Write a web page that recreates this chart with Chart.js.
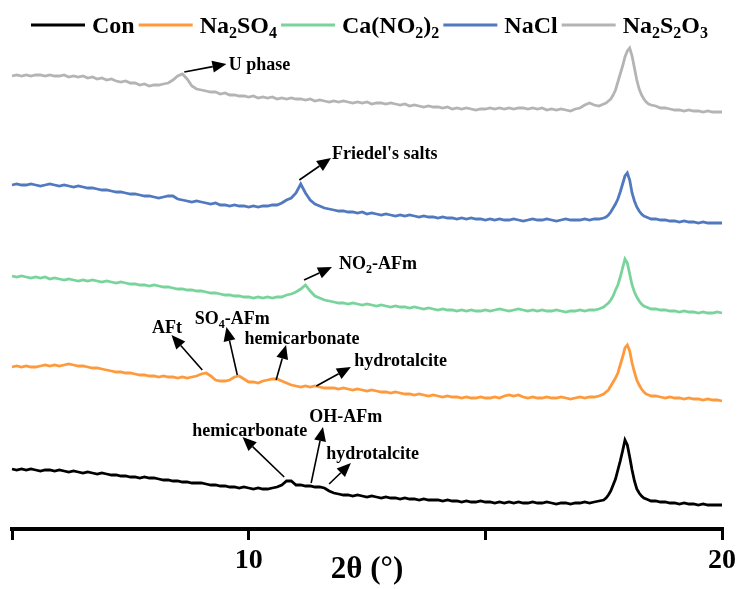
<!DOCTYPE html>
<html>
<head>
<meta charset="utf-8">
<script src="https://cdn.jsdelivr.net/npm/chart.js@4.4.1/dist/chart.umd.min.js"></script>
<style>
  html, body { margin: 0; padding: 0; background: #fff; }
  #wrap { width: 740px; height: 589px; }
</style>
</head>
<body>
<div id="wrap"><canvas id="xrd" width="740" height="589"></canvas></div>
<script>
// 2theta positions (deg), finer steps around the big peak near 18
const twoTheta = [
  5,5.1,5.2,5.3,5.4,5.5,5.6,5.7,5.8,5.9,
  6,6.1,6.2,6.3,6.4,6.5,6.6,6.7,6.8,6.9,
  7,7.1,7.2,7.3,7.4,7.5,7.6,7.7,7.8,7.9,
  8,8.1,8.2,8.3,8.4,8.5,8.6,8.7,8.8,8.9,
  9,9.1,9.2,9.3,9.4,9.5,9.6,9.7,9.8,9.9,
  10,10.1,10.2,10.3,10.4,10.5,10.6,10.7,10.8,10.9,
  11,11.1,11.2,11.3,11.4,11.5,11.6,11.7,11.8,11.9,
  12,12.1,12.2,12.3,12.4,12.5,12.6,12.7,12.8,12.9,
  13,13.1,13.2,13.3,13.4,13.5,13.6,13.7,13.8,13.9,
  14,14.1,14.2,14.3,14.4,14.5,14.6,14.7,14.8,14.9,
  15,15.1,15.2,15.3,15.4,15.5,15.6,15.7,15.8,15.9,
  16,16.1,16.2,16.3,16.4,16.5,16.6,16.7,16.8,16.9,
  17,17.1,17.2,17.3,17.4,17.5,
  17.55,17.6,17.65,17.7,17.75,17.8,17.85,17.9,17.95,18,18.05,18.1,18.15,18.2,18.25,18.3,18.35,18.4,18.45,
  18.5,18.6,18.7,18.8,18.9,19,19.1,19.2,19.3,19.4,19.5,19.6,19.7,19.8,19.9,20
];

// intensities (a.u., stacked offsets as in the figure)
const con = [
  60,59,60,59,60,59,58,59,59,58,
  59,58,57,58,57,56,57,56,55,56,
  55,54,54,53,53,52,52,51,52,51,
  51,50,49,49,48,48,47,47,46,46,
  46,45,44,44,43,43,42,42,41,42,
  41,40,41,40,40,41,42,44,48,48,
  44,44,43,43,42,42,41,38,36,35,
  34,34,33,34,33,32,33,32,31,32,
  31,31,30,31,30,30,29,30,29,29,
  29,28,29,28,28,27,28,27,27,28,
  27,27,26,27,26,27,26,27,26,26,
  27,26,26,27,26,25,26,26,25,26,
  26,27,26,27,28,29,
  31,34,38,44,50,59,68,78,89,84,72,59,48,40,36,33,31,30,29,
  28,28,27,27,26,26,25,26,25,25,24,25,24,24,24,24
];
const na2so4 = [
  162,163,162,163,162,162,163,164,163,164,
  163,164,165,164,163,163,162,161,161,160,
  159,158,157,157,156,156,155,154,154,153,
  153,152,153,152,152,151,152,151,152,153,
  155,156,153,149,148,148,149,152,153,150,
  147,147,146,148,149,150,150,148,146,144,
  143,142,143,142,143,142,141,141,141,140,
  141,140,139,140,139,138,139,138,137,137,
  136,137,136,135,135,134,135,134,133,134,
  133,132,133,132,132,131,132,131,131,132,
  131,131,132,131,133,134,133,134,132,131,
  132,131,131,132,131,131,132,131,130,131,
  132,131,132,132,133,135,
  137,139,143,147,151,156,164,172,181,184,178,166,157,149,144,140,137,135,134,
  133,133,132,131,132,131,131,130,131,130,130,129,130,129,129,128
];
const cano22 = [
  253,252,253,252,251,252,251,252,250,251,
  250,249,250,249,248,249,248,249,248,247,
  248,247,246,247,246,245,245,244,244,243,
  244,243,242,242,241,240,240,239,239,238,
  238,237,236,236,235,234,234,233,233,232,
  232,231,232,231,232,231,232,232,234,235,
  237,240,244,238,233,231,229,228,227,226,
  226,225,226,225,224,225,224,223,224,223,
  222,223,222,222,221,222,221,220,221,220,
  219,220,219,219,218,219,218,219,218,218,
  219,218,219,220,219,218,219,220,219,218,
  219,218,219,218,218,219,218,217,218,218,
  219,218,219,219,220,222,
  224,226,229,233,239,244,252,261,270,266,255,244,237,232,228,225,223,222,221,
  220,220,219,219,218,218,217,218,217,217,216,217,216,216,217,216
];
const nacl = [
  344,345,344,344,345,344,343,344,345,344,
  343,344,343,342,343,342,341,341,340,339,
  339,338,337,337,336,335,335,334,333,333,
  332,331,332,333,333,330,329,328,327,328,
  327,326,325,326,324,324,323,324,323,323,
  322,323,322,323,323,324,324,326,329,331,
  336,345,336,329,325,323,321,320,319,318,
  318,317,317,316,317,315,316,315,314,315,
  314,313,314,313,314,313,312,313,312,312,
  311,312,311,311,310,311,310,311,310,310,
  309,310,309,310,309,309,310,309,308,309,
  310,309,309,310,309,308,309,310,309,309,
  309,310,309,310,310,311,
  312,314,317,321,325,330,337,345,353,356,349,336,328,322,318,315,313,312,311,
  310,310,309,309,308,308,307,308,307,307,306,307,306,306,306,306
];
const na2s2o3 = [
  453,454,453,454,453,454,454,453,454,453,
  453,454,452,453,452,453,451,452,450,451,
  449,450,448,447,448,446,446,444,445,443,
  444,444,445,446,449,453,455,450,443,440,
  439,438,437,437,435,436,434,434,433,433,
  432,433,431,432,431,432,430,431,430,431,
  430,430,429,430,428,429,428,427,428,427,
  428,427,426,427,426,427,425,426,426,425,
  426,425,424,425,423,424,423,422,423,422,
  422,421,422,420,421,420,421,420,419,420,
  420,421,420,421,420,421,420,421,421,420,
  421,420,421,419,420,419,420,419,418,420,
  421,424,426,424,423,425,
  426,428,430,434,439,447,455,463,472,478,481,473,461,449,440,434,430,427,425,
  424,423,421,421,420,419,419,418,419,418,418,417,418,417,417,417
];

const seriesNames = ['Con', 'Na_2SO_4', 'Ca(NO_2)_2', 'NaCl', 'Na_2S_2O_3'];
const seriesColors = ['#000000', '#FF9A3C', '#79D49C', '#5079BF', '#B4B4B4'];
const seriesData = [con, na2so4, cano22, nacl, na2s2o3];

const tickValues = [5, 10, 15, 20];
const tickLabels = ['', '10', '', '20'];

// phase labels: arrow from the pattern (from) to tip, text placed at (at)
const annotations = [
  { text: 'U phase',         from: [8.64, 457], tip: [9.53, 465], at: [9.58, 465] },
  { text: "Friedel's salts", from: [11.07, 349], tip: [11.74, 371], at: [11.76, 376] },
  { text: 'NO_2-AFm',        from: [11.17, 249], tip: [11.76, 262], at: [11.91, 266] },
  { text: 'AFt',             from: [9.02, 159], tip: [8.37, 194], at: [7.96, 202] },
  { text: 'SO_4-AFm',        from: [9.76, 154], tip: [9.53, 202], at: [8.86, 211] },
  { text: 'hemicarbonate',   from: [10.58, 149], tip: [10.79, 184], at: [9.91, 191] },
  { text: 'hydrotalcite',    from: [11.43, 143], tip: [12.16, 162], at: [12.23, 169] },
  { text: 'hemicarbonate',   from: [10.75, 52], tip: [9.87, 92], at: [8.81, 99] },
  { text: 'OH-AFm',          from: [11.32, 46], tip: [11.57, 102], at: [11.28, 113] },
  { text: 'hydrotalcite',    from: [11.70, 45], tip: [12.16, 66], at: [11.64, 76] }
];

const SERIF = '"Liberation Serif", "Times New Roman", serif';

// split "Na_2SO_4" into normal / subscript pieces
function parseSubs(str) {
  const parts = [];
  for (let i = 0; i < str.length; i++) {
    if (str[i] === '_' && i + 1 < str.length) {
      parts.push({ t: str[i + 1], sub: true });
      i++;
    } else {
      const last = parts[parts.length - 1];
      if (last && !last.sub) last.t += str[i];
      else parts.push({ t: str[i], sub: false });
    }
  }
  return parts;
}

function drawRich(ctx, str, x, yMid, size) {
  const base = yMid + size * 0.33;
  ctx.textBaseline = 'alphabetic';
  ctx.textAlign = 'left';
  parseSubs(str).forEach(p => {
    ctx.font = 'bold ' + (p.sub ? Math.round(size * 0.65) : size) + 'px ' + SERIF;
    ctx.fillText(p.t, x, p.sub ? base + size * 0.22 : base);
    x += ctx.measureText(p.t).width;
  });
  return x;
}

function drawArrow(ctx, x0, y0, x1, y1) {
  const ang = Math.atan2(y1 - y0, x1 - x0);
  const hl = 14, hw = 6;
  const bx = x1 - hl * Math.cos(ang), by = y1 - hl * Math.sin(ang);
  ctx.beginPath();
  ctx.moveTo(x0, y0);
  ctx.lineTo(bx, by);
  ctx.stroke();
  ctx.beginPath();
  ctx.moveTo(x1, y1);
  ctx.lineTo(bx + hw * Math.sin(ang), by - hw * Math.cos(ang));
  ctx.lineTo(bx - hw * Math.sin(ang), by + hw * Math.cos(ang));
  ctx.closePath();
  ctx.fill();
}

const xrdExtras = {
  id: 'xrdExtras',
  afterDatasetsDraw(chart) {
    const { ctx, scales: { x, y } } = chart;
    ctx.save();
    ctx.strokeStyle = '#000';
    ctx.fillStyle = '#000';
    ctx.lineWidth = 1.6;
    annotations.forEach(a => {
      drawArrow(ctx,
        x.getPixelForValue(a.from[0]), y.getPixelForValue(a.from[1]),
        x.getPixelForValue(a.tip[0]), y.getPixelForValue(a.tip[1]));
      drawRich(ctx, a.text, x.getPixelForValue(a.at[0]), y.getPixelForValue(a.at[1]), 18);
    });

    // legend row with subscripts
    let lx = 31;
    const ly = 25;
    chart.data.datasets.forEach(ds => {
      ctx.strokeStyle = ds.borderColor;
      ctx.lineWidth = 3;
      ctx.beginPath();
      ctx.moveTo(lx, ly);
      ctx.lineTo(lx + 54, ly);
      ctx.stroke();
      lx += 61;
      ctx.fillStyle = '#000';
      lx = drawRich(ctx, ds.label, lx, ly, 24) + 4;
    });
    ctx.restore();
  }
};

new Chart(document.getElementById('xrd'), {
  type: 'line',
  data: {
    datasets: seriesData.map((arr, i) => ({
      label: seriesNames[i],
      data: twoTheta.map((t, j) => ({ x: t, y: arr[j] })),
      borderColor: seriesColors[i],
      borderWidth: 2.8,
      pointRadius: 0,
      tension: 0,
      fill: false
    }))
  },
  options: {
    responsive: false,
    animation: false,
    clip: false,
    layout: { padding: { left: 12, right: 16, top: 40, bottom: 0 } },
    plugins: { legend: { display: false }, tooltip: { enabled: false } },
    scales: {
      x: {
        type: 'linear',
        min: 5,
        max: 20,
        afterFit(scale) { scale.height = 60; },
        afterBuildTicks(scale) { scale.ticks = tickValues.map(v => ({ value: v })); },
        ticks: {
          autoSkip: false,
          maxRotation: 0,
          padding: 4,
          color: '#000',
          font: { family: SERIF, size: 28, weight: 'bold' },
          callback: v => tickLabels[tickValues.indexOf(v)]
        },
        grid: { display: true, drawOnChartArea: false, tickLength: 11, lineWidth: 3, color: '#000' },
        border: { display: true, width: 4, color: '#000' },
        title: {
          display: true,
          text: '2θ (°)',
          color: '#000',
          font: { family: SERIF, size: 31, weight: 'bold' },
          padding: { top: 0, bottom: 0 }
        }
      },
      y: { display: false, min: 0, max: 489 }
    }
  },
  plugins: [xrdExtras]
});
</script>
</body>
</html>
